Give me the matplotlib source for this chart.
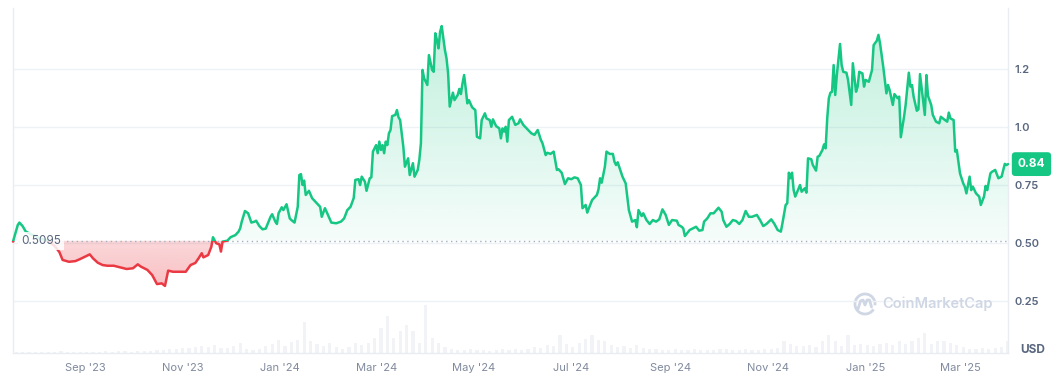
import datetime as dt
import matplotlib
matplotlib.use("Agg")
import matplotlib.pyplot as plt
import numpy as np
from matplotlib.colors import to_rgb
from matplotlib.lines import Line2D
from matplotlib.patches import Arc, Rectangle
from matplotlib.path import Path

plt.rcParams["font.family"] = ["Inter", "DejaVu Sans"]

# data
start_date = "2023-07-18"
baseline = 0.5095
last_price = 0.84

# days since start_date
day = [
    0, 3, 4, 6, 8, 11, 14, 18, 22, 26,
    29, 31, 35, 39, 42, 45, 48, 50, 53, 56,
    59, 63, 67, 71, 75, 78, 80, 84, 87, 90,
    93, 95, 97, 100, 104, 108, 111, 114, 116, 118,
    119, 122, 124, 125, 127, 129, 130, 131, 134, 136,
    139, 141, 142, 143, 145, 147, 149, 151, 152, 154,
    156, 158, 161, 162, 164, 165, 166, 168, 169, 171,
    173, 174, 176, 178, 179, 180, 181, 182, 183, 185,
    187, 190, 192, 193, 195, 196, 199, 202, 205, 207,
    209, 211, 213, 214, 216, 217, 218, 220, 221, 223,
    224, 225, 227, 228, 229, 230, 231, 232, 233, 234,
    235, 236, 237, 239, 240, 241, 242, 244, 245, 247,
    248, 250, 251, 253, 254, 255, 256, 257, 259, 260,
    262, 263, 264, 265, 266, 267, 268, 270, 271, 272,
    273, 275, 276, 278, 279, 280, 281, 282, 283, 284,
    285, 287, 289, 290, 292, 293, 295, 296, 298, 299,
    300, 302, 304, 305, 306, 307, 308, 309, 310, 312,
    314, 316, 317, 319, 322, 324, 326, 328, 330, 331,
    333, 334, 336, 338, 340, 341, 343, 345, 347, 349,
    351, 353, 355, 356, 358, 359, 360, 362, 365, 366,
    367, 368, 370, 371, 373, 375, 376, 377, 378, 380,
    381, 383, 384, 385, 387, 389, 390, 391, 393, 394,
    396, 398, 400, 402, 404, 406, 408, 410, 412, 415,
    416, 418, 419, 420, 423, 425, 427, 429, 431, 432,
    434, 436, 438, 441, 443, 444, 446, 448, 450, 452,
    454, 456, 458, 460, 462, 465, 467, 469, 471, 474,
    476, 478, 480, 481, 483, 484, 485, 486, 487, 488,
    489, 492, 493, 495, 496, 497, 499, 500, 502, 503,
    504, 506, 507, 508, 509, 510, 511, 512, 513, 514,
    515, 517, 518, 519, 521, 522, 524, 525, 527, 528,
    529, 531, 532, 533, 535, 537, 538, 540, 541, 542,
    544, 546, 547, 548, 550, 551, 553, 554, 555, 557,
    558, 560, 561, 562, 563, 565, 566, 567, 570, 571,
    572, 574, 575, 577, 579, 580, 582, 584, 585, 586,
    588, 589, 590, 592, 594, 595, 596, 598, 599, 600,
    602, 604, 605, 607, 608, 609, 611, 612, 614, 616,
    618, 620, 621, 622,
]

# price in USD
price = [
    0.506, 0.578, 0.588, 0.573, 0.549, 0.539, 0.530, 0.517, 0.509, 0.487,
    0.461, 0.427, 0.419, 0.422, 0.431, 0.441, 0.451, 0.434, 0.415, 0.405,
    0.402, 0.402, 0.395, 0.388, 0.391, 0.408, 0.398, 0.384, 0.362, 0.323,
    0.326, 0.315, 0.381, 0.376, 0.376, 0.376, 0.405, 0.414, 0.434, 0.456,
    0.438, 0.448, 0.484, 0.525, 0.499, 0.494, 0.463, 0.506, 0.510, 0.525,
    0.534, 0.549, 0.563, 0.592, 0.638, 0.628, 0.588, 0.592, 0.596, 0.573,
    0.559, 0.562, 0.613, 0.624, 0.592, 0.582, 0.628, 0.654, 0.642, 0.667,
    0.606, 0.599, 0.588, 0.656, 0.793, 0.797, 0.750, 0.769, 0.707, 0.725,
    0.693, 0.671, 0.656, 0.613, 0.650, 0.635, 0.588, 0.585, 0.592, 0.606,
    0.642, 0.656, 0.694, 0.772, 0.775, 0.750, 0.786, 0.764, 0.725, 0.779,
    0.783, 0.894, 0.922, 0.887, 0.937, 0.901, 0.922, 0.887, 0.937, 0.922,
    0.973, 0.987, 1.047, 1.052, 1.073, 1.042, 1.030, 0.915, 0.829, 0.865,
    0.793, 0.844, 0.786, 0.815, 0.858, 0.930, 1.246, 1.210, 1.181, 1.310,
    1.246, 1.238, 1.404, 1.375, 1.339, 1.411, 1.435, 1.332, 1.296, 1.231,
    1.088, 1.148, 1.116, 1.138, 1.164, 1.142, 1.188, 1.224, 1.167, 1.102,
    1.116, 1.085, 1.073, 0.958, 0.951, 1.030, 1.059, 1.037, 1.030, 1.001,
    1.033, 1.004, 0.994, 0.951, 0.994, 0.980, 1.001, 0.937, 1.030, 1.044,
    1.009, 1.016, 1.033, 1.009, 0.987, 0.973, 0.966, 0.987, 0.944, 0.930,
    0.879, 0.889, 0.884, 0.894, 0.815, 0.818, 0.803, 0.754, 0.779, 0.775,
    0.783, 0.779, 0.750, 0.650, 0.664, 0.631, 0.650, 0.685, 0.707, 0.731,
    0.779, 0.760, 0.829, 0.894, 0.884, 0.884, 0.850, 0.836, 0.848, 0.807,
    0.786, 0.757, 0.700, 0.642, 0.592, 0.599, 0.568, 0.642, 0.616, 0.628,
    0.599, 0.582, 0.599, 0.592, 0.602, 0.645, 0.621, 0.578, 0.599, 0.596,
    0.578, 0.570, 0.563, 0.530, 0.556, 0.563, 0.570, 0.553, 0.556, 0.592,
    0.606, 0.628, 0.628, 0.652, 0.635, 0.599, 0.570, 0.582, 0.599, 0.595,
    0.582, 0.599, 0.638, 0.613, 0.613, 0.621, 0.599, 0.573, 0.582, 0.602,
    0.582, 0.556, 0.549, 0.585, 0.664, 0.671, 0.803, 0.779, 0.803, 0.728,
    0.700, 0.750, 0.721, 0.736, 0.717, 0.865, 0.861, 0.836, 0.812, 0.872,
    0.875, 0.901, 0.925, 0.908, 1.038, 1.124, 1.148, 1.152, 1.267, 1.138,
    1.224, 1.358, 1.267, 1.238, 1.234, 1.203, 1.095, 1.275, 1.152, 1.174,
    1.238, 1.231, 1.174, 1.203, 1.195, 1.246, 1.353, 1.372, 1.397, 1.361,
    1.260, 1.145, 1.181, 1.159, 1.095, 1.142, 1.124, 1.131, 0.956, 1.044,
    1.095, 1.234, 1.174, 1.181, 1.131, 1.070, 1.076, 1.228, 1.052, 1.224,
    1.134, 1.095, 1.052, 1.023, 1.016, 1.044, 1.033, 1.023, 1.062, 1.037,
    1.030, 0.894, 0.901, 0.800, 0.757, 0.743, 0.714, 0.786, 0.728, 0.743,
    0.714, 0.700, 0.664, 0.700, 0.746, 0.728, 0.800, 0.807, 0.815, 0.779,
    0.786, 0.841, 0.836, 0.840,
]

# traded volume (relative), one value per 4 days
vol_step = 4
volume = [
    1, 1, 1, 1, 1, 1, 1, 2, 1, 1, 1, 1, 1,
    1, 2, 1, 2, 2, 1, 2, 2, 2, 3, 3, 4,
    4, 5, 5, 6, 7, 6, 8, 5, 5, 7, 10, 4, 3,
    4, 7, 9, 13, 7, 11,
    13, 31, 12, 9, 7, 10, 6,
    4, 6, 10, 8, 10,
    15, 25, 37, 15, 22, 28, 22, 10, 48,
    15, 10, 6, 4, 3, 3, 4, 3, 3, 2, 3, 4, 3, 4, 3,
    4, 6, 5, 8, 7, 18, 9, 6, 10, 14, 18, 13, 12, 8, 6, 7, 5, 8, 5, 4, 4,
    3, 3, 4, 3, 3, 4, 3, 3, 3, 4, 4, 3, 3, 4, 3, 3, 4, 4, 5, 12,
    9, 7, 7, 8, 6, 12, 18, 12, 7, 18, 8, 9, 8, 7, 9, 10, 8, 12, 9, 12,
    15, 20, 9, 12, 12, 10, 8, 6, 4, 4, 5, 4, 5, 6, 12,
]

y_ticks = [0.25, 0.5, 0.75, 1.0, 1.25]
y_labels = ["0.25", "0.50", "0.75", "1.0", "1.2"]
x_tick_dates = ["2023-09-01", "2023-11-01", "2024-01-01", "2024-03-01",
                "2024-05-01", "2024-07-01", "2024-09-01", "2024-11-01",
                "2025-01-01", "2025-03-01"]
x_labels = ["Sep '23", "Nov '23", "Jan '24", "Mar '24", "May '24",
            "Jul '24", "Sep '24", "Nov '24", "Jan '25", "Mar '25"]

W, H = 1058, 381
GREEN = "#16c784"
RED = "#ea3943"
GRID = "#eff2f5"
EDGE = "#e9ecf0"
LABEL = "#58667e"
XLABEL = "#808a9d"
MARK = "#cfd6e4"
VOL = "#f1f3f6"


def gradient_fill(ax, x, y, base, color, a_near, a_far, above):
    # polygon between curve and baseline, filled with a vertical alpha gradient
    if above:
        where = y >= base
    else:
        where = y <= base
    poly = ax.fill_between(x, y, base, where=where, interpolate=True,
                           facecolor="none", edgecolor="none")
    clip = Path.make_compound_path(*poly.get_paths())
    poly.remove()
    n = 256
    rgba = np.zeros((n, 1, 4))
    rgba[:, :, :3] = to_rgb(color)
    if above:
        rgba[:, 0, 3] = np.linspace(a_near, a_far, n)
        y0, y1 = base, y.max()
    else:
        rgba[:, 0, 3] = np.linspace(a_far, a_near, n)
        y0, y1 = y.min(), base
    im = ax.imshow(rgba, aspect="auto", origin="lower", interpolation="bilinear",
                   extent=[x.min(), x.max(), y0, y1], zorder=1)
    im.set_clip_path(clip, transform=ax.transData)


def fx(px):
    return px / W


def fy(py):
    return 1 - py / H


def main():
    assert len(day) == len(price)
    t0 = dt.date.fromisoformat(start_date).toordinal()
    x = np.array([t0 + d for d in day], dtype=float)
    p = np.array(price)
    x_end = t0 + 622

    fig = plt.figure(figsize=(W / 100, H / 100), dpi=100)
    rect = [fx(13), fy(353), fx(995), 345 / H]

    # volume bars in the back
    vax = fig.add_axes(rect, zorder=0)
    vx = t0 + np.arange(len(volume)) * vol_step + vol_step / 2
    vax.bar(vx, volume, width=2.0, color=VOL, linewidth=0)
    vax.set_xlim(t0, x_end)
    vax.set_ylim(0, max(volume) * 345 / 48)
    vax.axis("off")

    ax = fig.add_axes(rect, zorder=1)
    ax.patch.set_visible(False)

    # fills
    gradient_fill(ax, x, p, baseline, GREEN, 0.04, 0.27, above=True)
    gradient_fill(ax, x, p, baseline, RED, 0.2, 0.32, above=False)

    # line, green above the open price and red below it
    big = 10000
    for color, clip_y in ((GREEN, baseline), (RED, baseline - 10)):
        line, = ax.plot(x, p, color=color, lw=1.8, zorder=3,
                        solid_joinstyle="round", solid_capstyle="round")
        line.set_clip_path(Rectangle((t0 - big, clip_y), 3 * big, 10,
                                     transform=ax.transData))

    ax.axhline(baseline, color="#a6afbf", lw=1, ls=(0, (1, 2.5)), zorder=2)
    ax.text(t0 + 5, baseline, "0.5095", ha="left", va="center", fontsize=8.5,
            color=LABEL, zorder=4,
            bbox=dict(boxstyle="square,pad=0.25", fc="white", ec="none", alpha=0.85))

    ax.set_xlim(t0, x_end)
    ax.set_ylim((359 - 353) / 232, (359 - 8) / 232)

    ax.set_yticks(y_ticks)
    ax.set_yticklabels(y_labels)
    ax.yaxis.tick_right()
    ax.tick_params(axis="y", length=0, pad=4.5, labelsize=8, labelcolor=LABEL)
    for lbl in ax.get_yticklabels():
        lbl.set_fontweight("semibold")

    ax.set_xticks([dt.date.fromisoformat(d).toordinal() for d in x_tick_dates])
    ax.set_xticklabels(x_labels)
    ax.tick_params(axis="x", length=0, pad=7, labelsize=8, labelcolor=XLABEL)

    ax.grid(axis="y", color=GRID, lw=1, zorder=0)
    ax.set_axisbelow(True)
    ax.spines["top"].set_visible(False)
    for s in ("left", "right", "bottom"):
        ax.spines[s].set_color(EDGE)
        ax.spines[s].set_linewidth(1)

    # current price tag
    ax.annotate(f"{last_price:.2f}", xy=(1.0, last_price),
                xycoords=("axes fraction", "data"), xytext=(7, 0),
                textcoords="offset points", ha="left", va="center",
                fontsize=8.5, fontweight="bold", color="white", zorder=6,
                annotation_clip=False,
                bbox=dict(boxstyle="round,pad=0.5,rounding_size=0.3",
                          fc=GREEN, ec="none"))

    fig.text(fx(1033), fy(350), "USD", ha="center", va="center", fontsize=8.5,
             fontweight="bold", color=LABEL)

    # watermark
    fig.text(fx(882), fy(304), "CoinMarketCap", ha="left", va="center",
             fontsize=10.5, fontweight="semibold", color=MARK)
    fig.add_artist(Arc((fx(865), fy(304)), 20 / W, 20 / H, theta1=-20, theta2=300,
                       transform=fig.transFigure, color=MARK, lw=2))
    wx = [858, 860.5, 863, 865, 867, 869.5, 871.5]
    wy = [309, 301, 300, 305, 300, 300, 307]
    fig.add_artist(Line2D([fx(v) for v in wx], [fy(v) for v in wy],
                          transform=fig.transFigure, color=MARK, lw=2,
                          solid_joinstyle="round", solid_capstyle="round"))

    fig.savefig("out.png", dpi=100, facecolor="white")


if __name__ == "__main__":
    main()
